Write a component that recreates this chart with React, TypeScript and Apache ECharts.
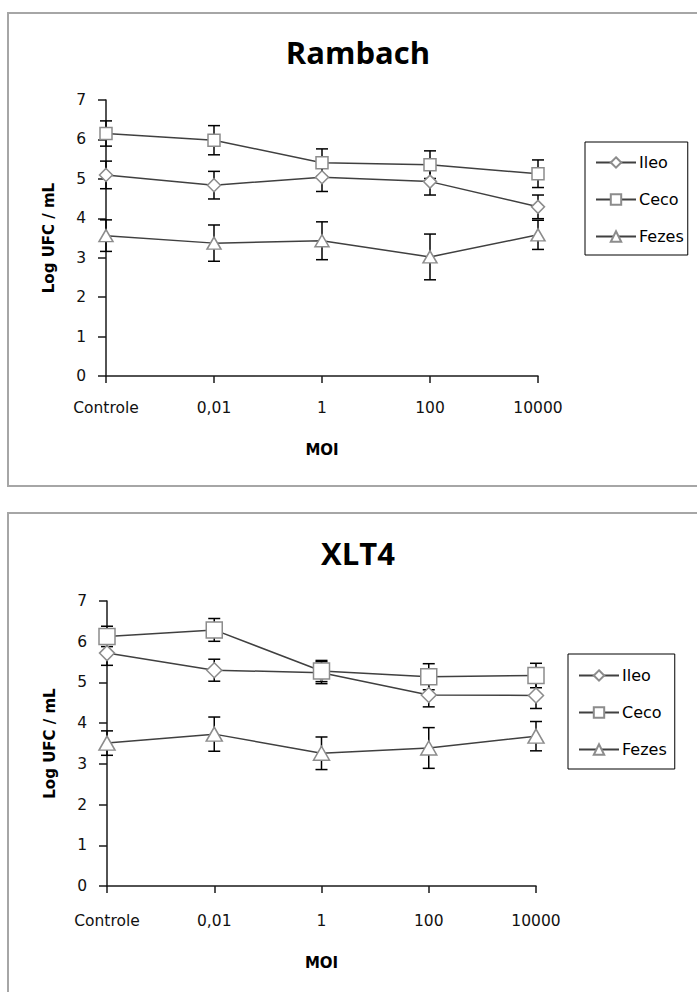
import React, { useEffect, useRef } from "react";
import * as echarts from "echarts";

const categories = ["Controle", "0,01", "1", "100", "10000"];
const seriesNames = ["Ileo", "Ceco", "Fezes"];
const yTicks = [0, 1, 2, 3, 4, 5, 6, 7];

// Rambach
const rambachIleo = [5.1, 4.84, 5.04, 4.93, 4.29];
const rambachIleoErr = [0.35, 0.35, 0.36, 0.34, 0.3];
const rambachCeco = [6.15, 5.98, 5.41, 5.36, 5.13];
const rambachCecoErr = [0.32, 0.37, 0.35, 0.35, 0.35];
const rambachFezes = [3.56, 3.37, 3.43, 3.02, 3.58];
const rambachFezesErr = [0.4, 0.46, 0.48, 0.58, 0.37];

// XLT4
const xlt4Ileo = [5.72, 5.3, 5.24, 4.69, 4.68];
const xlt4IleoErr = [0.3, 0.27, 0.27, 0.29, 0.32];
const xlt4Ceco = [6.13, 6.29, 5.28, 5.14, 5.17];
const xlt4CecoErr = [0.25, 0.28, 0.26, 0.32, 0.3];
const xlt4Fezes = [3.51, 3.73, 3.26, 3.39, 3.68];
const xlt4FezesErr = [0.3, 0.42, 0.4, 0.5, 0.36];

const TICK_FONT = "DejaVu Sans";
const BOLD_FONT = "DejaVu Sans";
const TITLE_FONT = "Open Sans";

export default function App() {
  const ref = useRef<HTMLDivElement>(null);
  useEffect(() => {
    if (!ref.current) return;
    const chart = echarts.init(ref.current, undefined, { renderer: "svg" });

    const lineColor = "#404040";
    const markerStroke = "#8c8c8c";

    const makeAxes = (gi: number, labelMargin: number, nameGap: number) => ({
      x: {
        type: "category",
        gridIndex: gi,
        data: categories,
        boundaryGap: false,
        axisLine: { lineStyle: { color: "#1a1a1a", width: 1.5 } },
        axisTick: { show: true, length: 7, interval: 0, lineStyle: { color: "#1a1a1a", width: 1.5 } },
        axisLabel: { interval: 0, margin: labelMargin, color: "#111", fontFamily: TICK_FONT, fontSize: 15.5 },
        name: "MOI",
        nameLocation: "middle",
        nameGap: nameGap,
        nameTextStyle: { fontFamily: BOLD_FONT, fontWeight: "bold", fontSize: 15, color: "#000" },
        splitLine: { show: false },
      },
      y: {
        type: "value",
        gridIndex: gi,
        min: yTicks[0],
        max: yTicks[yTicks.length - 1],
        interval: 1,
        axisLine: { show: true, lineStyle: { color: "#1a1a1a", width: 1.5 } },
        axisTick: { show: true, length: 8, lineStyle: { color: "#1a1a1a", width: 1.5 } },
        axisLabel: { margin: 20, color: "#111", fontFamily: TICK_FONT, fontSize: 15.5 },
        splitLine: { show: false },
        name: "Log UFC / mL",
        nameLocation: "middle",
        nameRotate: 90,
        nameGap: 50,
        nameTextStyle: { fontFamily: BOLD_FONT, fontWeight: "bold", fontSize: 15, color: "#000" },
      },
    });

    const a0 = makeAxes(0, 24, 66);
    const a1 = makeAxes(1, 27, 69);

    const symbols = ["diamond", "rect", "triangle"];
    const sizesTop: any[] = [13, 12, [14, 12]];
    const sizesBottom: any[] = [15, 16, [16, 14]];

    const errRender = (params: any, api: any) => {
      const x = api.value(0);
      const v = api.value(1);
      const e = api.value(2);
      const hi = api.coord([x, v + e]);
      const lo = api.coord([x, v - e]);
      const half = 6;
      const st = { stroke: "#000", lineWidth: 1.5 };
      return {
        type: "group",
        children: [
          { type: "line", shape: { x1: hi[0], y1: hi[1], x2: lo[0], y2: lo[1] }, style: st },
          { type: "line", shape: { x1: hi[0] - half, y1: hi[1], x2: hi[0] + half, y2: hi[1] }, style: st },
          { type: "line", shape: { x1: lo[0] - half, y1: lo[1], x2: lo[0] + half, y2: lo[1] }, style: st },
        ],
      };
    };

    const buildSeries = (gi: number, vals: number[][], errs: number[][], sizes: any[]) => {
      const out: any[] = [];
      vals.forEach((v, k) => {
        out.push({
          type: "custom",
          name: "err-" + gi + "-" + seriesNames[k],
          xAxisIndex: gi,
          yAxisIndex: gi,
          z: 1,
          renderItem: errRender,
          encode: { x: 0, y: 1 },
          data: v.map((val, i) => [i, val, errs[k][i]]),
          silent: true,
        });
      });
      vals.forEach((v, k) => {
        out.push({
          type: "line",
          name: seriesNames[k],
          xAxisIndex: gi,
          yAxisIndex: gi,
          z: 3,
          data: v,
          symbol: symbols[k],
          symbolSize: sizes[k],
          showAllSymbol: true,
          lineStyle: { color: lineColor, width: 1.5 },
          itemStyle: { color: "#ffffff", borderColor: markerStroke, borderWidth: 1.5 },
          emphasis: { disabled: true },
        });
      });
      return out;
    };

    const legendCommon = {
      orient: "vertical",
      data: seriesNames,
      borderColor: "#000",
      borderWidth: 1,
      itemWidth: 40,
      itemHeight: 13,
      itemGap: 18,
      selectedMode: false,
      textStyle: { fontFamily: TICK_FONT, fontSize: 16, color: "#000", lineHeight: 19, padding: [0, 0, 0, -2] },
    };

    const option: any = {
      animation: false,
      backgroundColor: "#ffffff",
      graphic: [
        { type: "rect", shape: { x: 8, y: 13, width: 700, height: 473 }, style: { fill: "none", stroke: "#a6a6a6", lineWidth: 2 } },
        { type: "rect", shape: { x: 8, y: 513, width: 700, height: 500 }, style: { fill: "none", stroke: "#a6a6a6", lineWidth: 2 } },
        { type: "text", x: 358, y: 52, style: { text: "Rambach", align: "center", verticalAlign: "middle", font: "bold 31px '" + TITLE_FONT + "'", fill: "#000" } },
        { type: "text", x: 358, y: 553, style: { text: "XLT4", align: "center", verticalAlign: "middle", font: "bold 31px '" + TITLE_FONT + "'", fill: "#000" } },
      ],
      grid: [
        { left: 106, top: 100, width: 432, height: 276 },
        { left: 107, top: 601, width: 429, height: 285 },
      ],
      xAxis: [a0.x, a1.x],
      yAxis: [a0.y, a1.y],
      legend: [
        { ...legendCommon, left: 585, top: 142, padding: [11, 4, 9, 10] },
        { ...legendCommon, left: 568, top: 654, padding: [12, 8, 10, 10] },
      ],
      series: [
        ...buildSeries(0, [rambachIleo, rambachCeco, rambachFezes], [rambachIleoErr, rambachCecoErr, rambachFezesErr], sizesTop),
        ...buildSeries(1, [xlt4Ileo, xlt4Ceco, xlt4Fezes], [xlt4IleoErr, xlt4CecoErr, xlt4FezesErr], sizesBottom),
      ],
    };
    chart.setOption(option);
    return () => chart.dispose();
  }, []);
  return <div ref={ref} style={{ position: "absolute", left: 0, top: 0, width: 697, height: 992 }} />;
}
